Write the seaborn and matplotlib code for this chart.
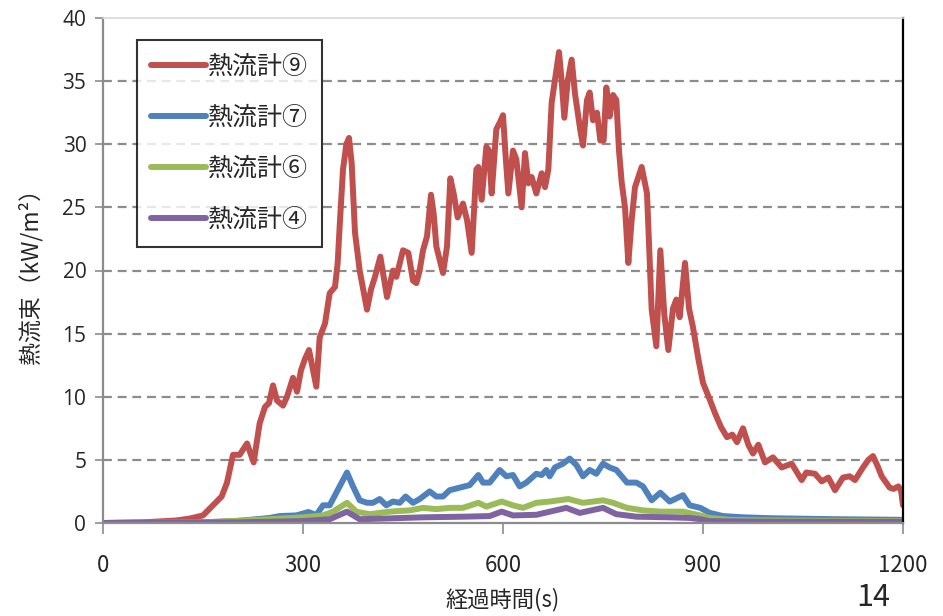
import matplotlib
matplotlib.use("Agg")
import matplotlib.pyplot as plt
from matplotlib import font_manager
from matplotlib.lines import Line2D
import numpy as np
import pandas as pd
import seaborn as sns

# --- heat-flux readings (time in s, flux in kW/m2) ---
t_hf9 = [0, 60, 110, 130, 150, 163, 178, 186, 195, 205, 216, 226, 235, 243, 249, 255,
         261, 270, 276, 285, 291, 297, 303, 309, 314, 320, 325, 333, 340, 348, 352,
         355, 360, 365, 369, 373, 378, 385, 396, 402, 408, 416, 426, 435, 440, 450,
         458, 465, 470, 475, 480, 486, 492, 496, 500, 510, 516, 521, 526, 532, 540,
         546, 553, 560, 563, 568, 575, 579, 583, 590, 595, 600, 604, 608, 615, 620,
         628, 633, 638, 643, 650, 658, 663, 668, 673, 678, 684, 688, 692, 697, 703,
         708, 716, 720, 726, 730, 735, 741, 746, 751, 755, 760, 765, 770, 774, 778,
         783, 788, 793, 798, 808, 816, 823, 830, 836, 842, 848, 855, 860, 865, 873,
         879, 885, 893, 900, 910, 918, 927, 936, 944, 951, 960, 968, 975, 983, 993,
         1005, 1018, 1033, 1048, 1055, 1068, 1078, 1088, 1098, 1110, 1120, 1128,
         1140, 1148, 1155, 1162, 1168, 1180, 1186, 1193, 1197, 1200]
hf9 = [0.0, 0.05, 0.2, 0.35, 0.6, 1.3, 2.1, 3.2, 5.4, 5.4, 6.3, 4.8, 7.9, 9.2, 9.5, 10.9,
       9.7, 9.3, 10.0, 11.5, 10.4, 12.1, 13.0, 13.7, 12.4, 10.8, 14.7, 15.8, 18.2, 18.7,
       20.6, 23.5, 28.0, 30.0, 30.5, 28.5, 23.0, 20.0, 16.9, 18.5, 19.5, 21.1, 17.9,
       20.0, 19.5, 21.6, 21.4, 19.2, 19.0, 20.0, 21.6, 22.7, 26.0, 24.5, 21.9, 19.8,
       21.9, 27.3, 26.1, 24.2, 25.3, 24.0, 21.4, 28.0, 28.2, 25.6, 29.8, 29.5, 26.1,
       31.2, 31.7, 32.3, 29.0, 26.1, 29.5, 28.8, 25.0, 29.3, 26.9, 27.4, 26.1, 27.7,
       26.6, 28.0, 33.3, 35.1, 37.3, 35.0, 32.1, 35.0, 36.7, 34.0, 31.1, 29.9, 33.5,
       34.1, 31.9, 32.5, 30.3, 30.3, 34.5, 32.2, 33.9, 33.5, 29.5, 27.0, 25.0, 20.6,
       24.0, 26.6, 28.2, 26.1, 16.9, 14.0, 21.6, 16.5, 13.7, 17.0, 17.7, 16.3, 20.6,
       17.0, 15.5, 13.0, 11.1, 9.8, 8.7, 7.6, 6.8, 7.0, 6.4, 7.5, 6.2, 5.5, 6.2, 4.8,
       5.2, 4.4, 4.7, 3.4, 4.0, 3.9, 3.3, 3.6, 2.6, 3.6, 3.7, 3.4, 4.4, 5.0, 5.3, 4.5,
       3.7, 2.8, 2.7, 2.9, 2.6, 1.4]

t_hf7 = [0, 150, 200, 250, 265, 290, 308, 320, 330, 340, 355, 366, 375, 385, 396, 405,
         415, 425, 435, 445, 454, 465, 475, 490, 500, 510, 520, 535, 550, 563, 570,
         580, 595, 605, 615, 625, 635, 650, 658, 665, 670, 678, 690, 700, 710, 720,
         730, 740, 750, 760, 770, 786, 800, 810, 823, 836, 850, 870, 880, 896, 910,
         930, 960, 1000, 1100, 1200]
hf7 = [0.0, 0.05, 0.15, 0.4, 0.55, 0.6, 0.87, 0.63, 1.4, 1.4, 2.9, 4.0, 2.9, 1.8, 1.6,
       1.6, 1.9, 1.4, 1.7, 1.6, 2.1, 1.6, 1.9, 2.5, 2.1, 2.1, 2.6, 2.8, 3.0, 3.8, 3.2,
       3.2, 4.2, 3.7, 3.8, 2.9, 3.2, 3.9, 3.8, 4.2, 3.7, 4.4, 4.7, 5.1, 4.6, 3.7, 4.2,
       3.9, 4.7, 4.4, 4.2, 3.2, 3.2, 2.9, 1.8, 2.4, 1.7, 2.2, 1.4, 1.2, 0.8, 0.55,
       0.45, 0.38, 0.3, 0.25]

t_hf6 = [0, 150, 250, 300, 330, 345, 366, 380, 400, 430, 460, 480, 500, 520, 540, 563,
         575, 598, 615, 630, 650, 670, 698, 720, 750, 765, 786, 810, 836, 870, 896,
         910, 940, 1000, 1200]
hf6 = [0.0, 0.05, 0.3, 0.45, 0.6, 0.9, 1.6, 0.9, 0.7, 0.9, 1.0, 1.2, 1.1, 1.2, 1.2,
       1.6, 1.3, 1.7, 1.4, 1.2, 1.6, 1.7, 1.9, 1.6, 1.8, 1.6, 1.2, 1.0, 0.9, 0.9, 0.6,
       0.4, 0.25, 0.2, 0.15]

t_hf4 = [0, 200, 300, 340, 366, 385, 420, 480, 540, 580, 598, 615, 650, 695, 715, 750,
         770, 800, 850, 880, 896, 910, 1000, 1200]
hf4 = [0.0, 0.05, 0.15, 0.3, 0.9, 0.3, 0.35, 0.45, 0.5, 0.55, 0.9, 0.6, 0.65, 1.2, 0.8,
       1.2, 0.7, 0.5, 0.45, 0.4, 0.3, 0.15, 0.1, 0.1]

series_names = ["熱流計⑨", "熱流計⑦", "熱流計⑥", "熱流計④"]
series_colors = ["#C0504D", "#4F81BD", "#9BBB59", "#8064A2"]
x_ticks = [0, 300, 600, 900, 1200]
y_ticks = [0, 5, 10, 15, 20, 25, 30, 35, 40]

frames = []
for name, tt, vv in zip(series_names, [t_hf9, t_hf7, t_hf6, t_hf4], [hf9, hf7, hf6, hf4]):
    frames.append(pd.DataFrame({"time": tt, "flux": vv, "meter": name}))
data = pd.concat(frames, ignore_index=True)

sns.set_style("white")
jp = ["Noto Sans CJK JP", "DejaVu Sans"]
plt.rcParams["font.family"] = jp

available = {f.name for f in font_manager.fontManager.ttflist}
narrow = "Liberation Sans Narrow" if "Liberation Sans Narrow" in available else "Noto Sans CJK JP"

fig = plt.figure(figsize=(9.43, 6.16), dpi=100)
ax = fig.add_axes([103 / 943, 1 - 523 / 616, 800 / 943, 505 / 616])

# dashed horizontal grid
for y in y_ticks[1:-1]:
    ax.axhline(y, color="#8c8c8c", lw=1.6, ls=(0, (4, 2.6)), zorder=0)

sns.lineplot(data=data, x="time", y="flux", hue="meter", hue_order=series_names,
             palette=series_colors, estimator=None, sort=False, lw=4.3,
             legend=False, ax=ax)
for ln in ax.get_lines():
    ln.set_solid_joinstyle("round")
    ln.set_solid_capstyle("round")

ax.set_xlim(0, 1200)
ax.set_ylim(0, 40)
ax.set_xticks(x_ticks)
ax.set_yticks(y_ticks)
ax.set_xticklabels([str(v) for v in x_ticks], family=narrow, fontsize=16)
ax.set_yticklabels([str(v) for v in y_ticks], family="Open Sans", fontsize=15)
ax.tick_params(axis="x", length=8, width=1.2, color="#8c8c8c", pad=14, direction="out")
ax.tick_params(axis="y", length=6, width=1.2, color="#8c8c8c", pad=6, direction="out")
ax.xaxis.set_ticks_position("bottom")
ax.yaxis.set_ticks_position("left")

for side in ["left", "bottom"]:
    ax.spines[side].set_color("#8c8c8c")
    ax.spines[side].set_linewidth(1.6)
ax.spines["right"].set_color("black")
ax.spines["right"].set_linewidth(1.6)
ax.spines["top"].set_color("#d9d9d9")
ax.spines["top"].set_linewidth(1.2)

ax.set_xlabel("経過時間(s)", family=[narrow] + jp, fontsize=16)
ax.xaxis.set_label_coords(0.5, -0.128)
ax.set_ylabel("熱流束（kW/m²）", family=jp, fontsize=16.5)
ax.yaxis.set_label_coords(-0.076, 0.5)

handles = [Line2D([0], [0], color=c, lw=4.3, solid_capstyle="round") for c in series_colors]
leg = ax.legend(handles, series_names, loc="upper left", bbox_to_anchor=(34 / 800, 1 - 22 / 505),
                frameon=True, fancybox=False, edgecolor="black", fontsize=18,
                handlelength=2.2, handletextpad=0.1, labelspacing=1.0,
                borderpad=0.55, borderaxespad=0.0)
leg.get_frame().set_linewidth(1.5)

fig.text(873 / 943, 1 - 597 / 616, "14", family=narrow, fontsize=22, ha="center", va="center")

fig.savefig("out.png", dpi=100)
